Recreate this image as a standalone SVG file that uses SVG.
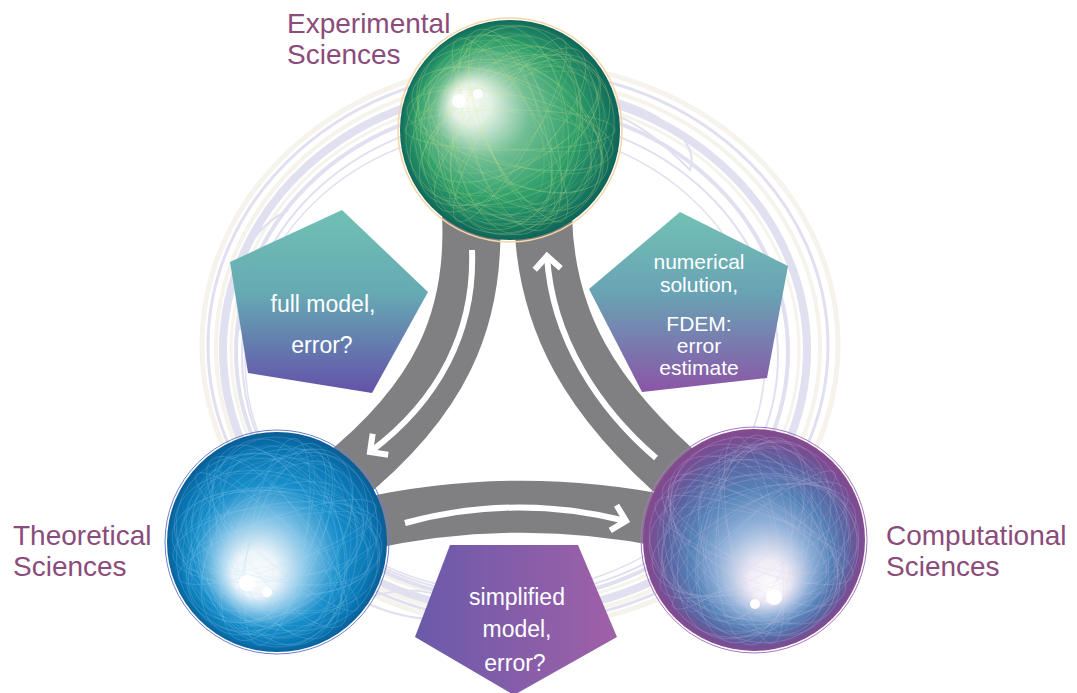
<svg xmlns="http://www.w3.org/2000/svg" width="1077" height="693" viewBox="0 0 1077 693">
  <style>
    .lbl{font-family:"Liberation Sans",Arial,sans-serif;font-size:28px;fill:#8b4b7b}
    .ptxt{font-family:"Liberation Sans",Arial,sans-serif;font-size:23px;fill:#ffffff;text-anchor:middle}
    .ptxs{font-family:"Liberation Sans",Arial,sans-serif;font-size:21px;fill:#ffffff;text-anchor:middle}
    .band{fill:none;stroke:#808083;stroke-linecap:butt}
    .warrow{fill:none;stroke:#ffffff;stroke-width:6}
    .swl{fill:none;stroke:#e0e0f0}
    .swo{fill:none;stroke:#f5f3ec}
    .mesh{fill:none;stroke-width:0.5}
  </style>
  <defs>
    <marker id="chev" markerUnits="userSpaceOnUse" markerWidth="30" markerHeight="34" viewBox="-20 -17 26 34" refX="0" refY="0" orient="auto">
      <path d="M-13,-13 L0,0 L-13,13" fill="none" stroke="#ffffff" stroke-width="6" stroke-linejoin="miter"/>
    </marker>
    <radialGradient id="gTop" gradientUnits="userSpaceOnUse" cx="510" cy="130" r="112" fx="462" fy="98">
      <stop offset="0" stop-color="#ffffff"/>
      <stop offset="0.18" stop-color="#e2f1e6"/>
      <stop offset="0.42" stop-color="#73bf95"/>
      <stop offset="0.7" stop-color="#30a06c"/>
      <stop offset="0.9" stop-color="#1a7d62"/>
      <stop offset="1" stop-color="#0f6258"/>
    </radialGradient>
    <radialGradient id="gLeft" gradientUnits="userSpaceOnUse" cx="277" cy="542" r="112" fx="250" fy="582">
      <stop offset="0" stop-color="#ffffff"/>
      <stop offset="0.2" stop-color="#eef5fa"/>
      <stop offset="0.42" stop-color="#82c3e6"/>
      <stop offset="0.65" stop-color="#1a8fcb"/>
      <stop offset="0.88" stop-color="#0a76b4"/>
      <stop offset="1" stop-color="#0b5c93"/>
    </radialGradient>
    <radialGradient id="gRight" gradientUnits="userSpaceOnUse" cx="754" cy="540" r="113" fx="772" fy="590">
      <stop offset="0" stop-color="#ffffff"/>
      <stop offset="0.18" stop-color="#f0ecf6"/>
      <stop offset="0.42" stop-color="#8eb0d8"/>
      <stop offset="0.62" stop-color="#5683b8"/>
      <stop offset="0.8" stop-color="#5a64a2"/>
      <stop offset="0.93" stop-color="#7a4e94"/>
      <stop offset="1" stop-color="#8a4a8c"/>
    </radialGradient>
    <linearGradient id="pL" x1="0" y1="0" x2="0" y2="1">
      <stop offset="0" stop-color="#70c0b4"/>
      <stop offset="0.45" stop-color="#66aab3"/>
      <stop offset="0.75" stop-color="#6479ae"/>
      <stop offset="1" stop-color="#6551a8"/>
    </linearGradient>
    <linearGradient id="pR" x1="0" y1="0" x2="0" y2="1">
      <stop offset="0" stop-color="#72c1b5"/>
      <stop offset="0.45" stop-color="#69a3b4"/>
      <stop offset="0.75" stop-color="#7a78ae"/>
      <stop offset="1" stop-color="#8c55a6"/>
    </linearGradient>
    <linearGradient id="pB" x1="0" y1="0" x2="1" y2="0">
      <stop offset="0" stop-color="#6a5aaa"/>
      <stop offset="1" stop-color="#a060a8"/>
    </linearGradient>
    <g id="meshset">
      <ellipse cx="0" cy="0" rx="105" ry="20" transform="rotate(0)"/>
      <ellipse cx="0" cy="0" rx="105" ry="35" transform="rotate(12)"/>
      <ellipse cx="0" cy="0" rx="105" ry="50" transform="rotate(24)"/>
      <ellipse cx="0" cy="0" rx="105" ry="65" transform="rotate(36)"/>
      <ellipse cx="0" cy="0" rx="105" ry="80" transform="rotate(48)"/>
      <ellipse cx="0" cy="0" rx="105" ry="28" transform="rotate(60)"/>
      <ellipse cx="0" cy="0" rx="105" ry="42" transform="rotate(72)"/>
      <ellipse cx="0" cy="0" rx="105" ry="58" transform="rotate(84)"/>
      <ellipse cx="0" cy="0" rx="105" ry="72" transform="rotate(96)"/>
      <ellipse cx="0" cy="0" rx="105" ry="88" transform="rotate(108)"/>
      <ellipse cx="0" cy="0" rx="105" ry="24" transform="rotate(120)"/>
      <ellipse cx="0" cy="0" rx="105" ry="38" transform="rotate(132)"/>
      <ellipse cx="0" cy="0" rx="105" ry="54" transform="rotate(144)"/>
      <ellipse cx="0" cy="0" rx="105" ry="68" transform="rotate(156)"/>
      <ellipse cx="0" cy="0" rx="105" ry="84" transform="rotate(168)"/>
      <ellipse cx="8" cy="-6" rx="95" ry="45" transform="rotate(-30)"/>
      <ellipse cx="-6" cy="8" rx="95" ry="60" transform="rotate(-70)"/>
      <ellipse cx="10" cy="4" rx="90" ry="30" transform="rotate(-110)"/>
      <ellipse cx="-4" cy="-10" rx="98" ry="75" transform="rotate(-150)"/>
    </g>
    <clipPath id="cSph"><circle cx="0" cy="0" r="109"/></clipPath>
  </defs>

  <rect width="1077" height="693" fill="#ffffff"/>

  <!-- background swirls -->
  <g id="swirls">
    <ellipse class="swl" cx="515" cy="350" rx="292" ry="262" stroke-width="8"/>
    <ellipse class="swo" cx="515" cy="350" rx="284" ry="254" stroke-width="3"/>
    <ellipse class="swl" cx="512" cy="352" rx="276" ry="248" stroke-width="4"/>
    <ellipse class="swo" cx="518" cy="348" rx="302" ry="270" stroke-width="4"/>
    <ellipse class="swl" cx="518" cy="346" rx="310" ry="276" stroke-width="3"/>
    <ellipse class="swl" cx="510" cy="356" rx="268" ry="240" stroke-width="2"/>
    <ellipse class="swo" cx="520" cy="345" rx="318" ry="282" stroke-width="5"/>
    <ellipse class="swl" cx="505" cy="360" rx="260" ry="232" stroke-width="1.5"/>
    <path class="swl" d="M600 95 C660 110 700 140 690 170 C670 150 640 120 600 110" stroke-width="2"/>
    <path class="swl" d="M360 600 C420 630 480 620 450 600 C420 585 390 590 360 600" stroke-width="2"/>
    <path class="swl" d="M240 330 C230 270 248 230 288 210" stroke-width="2"/>
  </g>

  <!-- connectors -->
  <g id="connectors">
    <path class="band" d="M471 215 C476 320 440 400 340 480" stroke-width="58"/>
    <path class="band" d="M543 215 C545 320 590 400 690 485" stroke-width="58"/>
    <path class="band" d="M360 525 Q515 490 670 522" stroke-width="52"/>
    <path class="warrow" d="M472 250 C475 330 440 400 370 452" marker-end="url(#chev)"/>
    <path class="warrow" d="M656 458 C600 410 552 340 547 256" marker-end="url(#chev)"/>
    <path class="warrow" d="M405 523 Q515 493 626 521" marker-end="url(#chev)"/>
  </g>

  <!-- pentagons -->
  <g id="pent-full">
    <polygon points="342,210 428,292 372,393 248,373 230,262" fill="url(#pL)"/>
    <text class="ptxt" x="323" y="312">full model,</text>
    <text class="ptxt" x="322" y="353">error?</text>
  </g>
  <g id="pent-numerical">
    <polygon points="680,212 788,266 767,378 642,392 589,289" fill="url(#pR)"/>
    <text class="ptxs" x="699" y="269">numerical</text>
    <text class="ptxs" x="699" y="292">solution,</text>
    <text class="ptxs" x="699" y="331">FDEM:</text>
    <text class="ptxs" x="699" y="353">error</text>
    <text class="ptxs" x="699" y="375">estimate</text>
  </g>
  <g id="pent-simplified">
    <polygon points="450,545 578,545 617,637 514,695 415,637" fill="url(#pB)"/>
    <text class="ptxt" x="517" y="605">simplified</text>
    <text class="ptxt" x="517" y="637">model,</text>
    <text class="ptxt" x="515" y="671">error?</text>
  </g>

  <!-- nodes -->
  <g id="node-experimental">
    <circle cx="510" cy="130" r="112" fill="none" stroke="#f6d6a6" stroke-width="1.5"/>
    <circle cx="510" cy="130" r="110" fill="url(#gTop)"/>
    <g transform="translate(510 130)" clip-path="url(#cSph)">
      <use href="#meshset" class="mesh" stroke="#dbe98e" opacity="0.45"/>
      <use href="#meshset" class="mesh" stroke="#dbe98e" opacity="0.3" transform="rotate(7) scale(0.92)"/>
    </g>
    <circle cx="459" cy="101" r="7" fill="#ffffff"/>
    <circle cx="478" cy="94" r="5" fill="#ffffff" opacity="0.9"/>
    <text class="lbl" x="287" y="33">Experimental</text>
    <text class="lbl" x="287" y="64">Sciences</text>
  </g>
  <g id="node-theoretical">
    <circle cx="277" cy="542" r="112" fill="none" stroke="#6f7fc6" stroke-width="1"/>
    <circle cx="277" cy="542" r="110" fill="url(#gLeft)"/>
    <g transform="translate(277 542)" clip-path="url(#cSph)">
      <use href="#meshset" class="mesh" stroke="#a8dcf5" opacity="0.4" transform="rotate(40)"/>
      <use href="#meshset" class="mesh" stroke="#a8dcf5" opacity="0.3" transform="rotate(47) scale(0.92)"/>
    </g>
    <circle cx="247" cy="583" r="8" fill="#ffffff"/>
    <circle cx="267" cy="592" r="5" fill="#ffffff"/>
    <text class="lbl" x="13" y="545">Theoretical</text>
    <text class="lbl" x="13" y="576">Sciences</text>
  </g>
  <g id="node-computational">
    <circle cx="754" cy="540" r="113" fill="none" stroke="#a577c0" stroke-width="1"/>
    <circle cx="754" cy="540" r="111" fill="url(#gRight)"/>
    <g transform="translate(754 540)" clip-path="url(#cSph)">
      <use href="#meshset" class="mesh" stroke="#dccbea" opacity="0.4" transform="rotate(-40)"/>
      <use href="#meshset" class="mesh" stroke="#dccbea" opacity="0.3" transform="rotate(-47) scale(0.92)"/>
    </g>
    <circle cx="774" cy="597" r="8" fill="#ffffff"/>
    <circle cx="755" cy="604" r="5" fill="#ffffff"/>
    <text class="lbl" x="886" y="545">Computational</text>
    <text class="lbl" x="886" y="576">Sciences</text>
  </g>
</svg>
